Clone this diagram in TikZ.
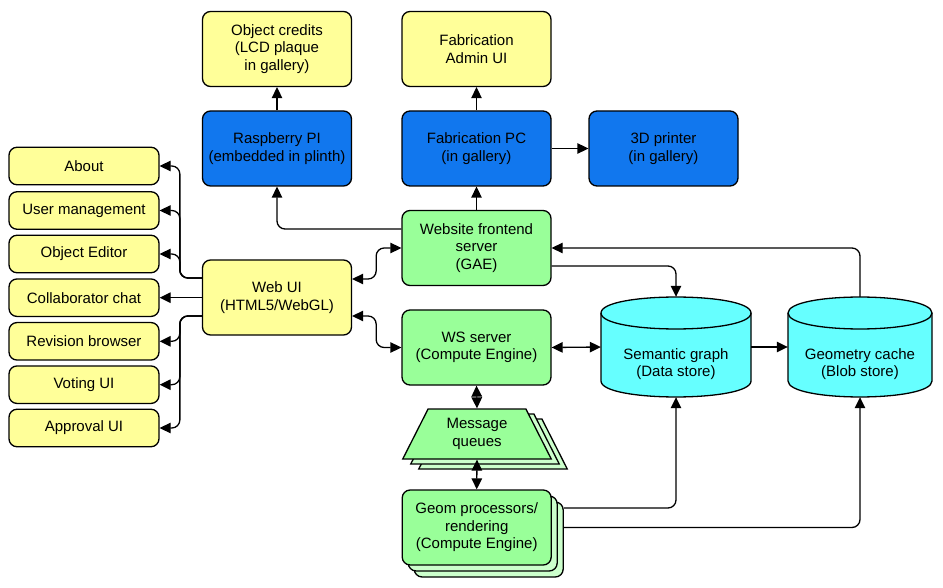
\documentclass[tikz,border=0pt]{standalone}
\usepackage{fontspec}
\setmainfont{Liberation Sans}
\usetikzlibrary{arrows.meta,shapes.geometric,shadows}
\definecolor{cyel}{HTML}{FFFF99}
\definecolor{cblue}{HTML}{1177EE}
\definecolor{cgreen}{HTML}{99FF99}
\definecolor{cgreenl}{HTML}{CCFFCC}
\definecolor{ccyan}{HTML}{66FFFF}
\begin{document}
\begin{tikzpicture}[x=1pt,y=-1pt,
  txt/.style={align=center, font=\fontsize{15}{17.5}\selectfont},
  box/.style={txt, draw=black, line width=1.3pt, rounded corners=8pt, minimum width=149pt, minimum height=75pt, inner sep=2pt},
  ybox/.style={box, fill=cyel},
  bbox/.style={box, fill=cblue},
  gbox/.style={box, fill=cgreen},
  lbox/.style={ybox, minimum width=150pt, minimum height=37.5pt},
  cyl/.style={draw=black, line width=1.3pt, fill=ccyan},
  conn/.style={line width=1.3pt, rounded corners=8pt},
  arr/.style={conn, -{Triangle[length=11pt,width=10.5pt]}},
  darr/.style={conn, {Triangle[length=11pt,width=10.5pt]}-{Triangle[length=11pt,width=10.5pt]}},
]
\useasboundingbox (0,0) rectangle (943,588);
\fill[white] (0,0) rectangle (943,588);

% top rows
\node[ybox] (credits) at (277,49) {Object credits\\(LCD plaque\\in gallery)};
\node[ybox] (fabadmin) at (476.5,49) {Fabrication\\Admin UI};
\node[bbox] (rpi) at (277,148.5) {Raspberry PI\\(embedded in plinth)};
\node[bbox] (fabpc) at (476.5,148.5) {Fabrication PC\\(in gallery)};
\node[bbox] (printer) at (663.5,148.5) {3D printer\\(in gallery)};
\node[gbox] (website) at (476.5,248) {Website frontend\\server\\(GAE)};
\node[ybox] (webui) at (277,297.5) {Web UI\\(HTML5/WebGL)};
\node[gbox] (ws) at (476.5,347.5) {WS server\\(Compute Engine)};

% left column
\node[lbox] (about) at (84,166) {About};
\node[lbox] (usermgmt) at (84,210.5) {User management};
\node[lbox] (objeditor) at (84,254) {Object Editor};
\node[lbox] (chat) at (84,297.7) {Collaborator chat};
\node[lbox] (revision) at (84,341.3) {Revision browser};
\node[lbox] (voting) at (84,384.7) {Voting UI};
\node[lbox] (approval) at (84,428) {Approval UI};

% message queues
\node[txt, trapezium, trapezium left angle=63, trapezium right angle=63, trapezium stretches=true,
  minimum width=149pt, minimum height=50pt, inner sep=0pt, draw=black, line width=1.3pt, fill=cgreen,
  double copy shadow={shadow xshift=8pt, shadow yshift=-5pt, fill=cgreenl, draw=black, line width=1.3pt}]
  (queues) at (477,434) {Message\\queues};

% geom processors
\node[gbox, double copy shadow={shadow xshift=6pt, shadow yshift=-6pt, fill=cgreenl, draw=black, line width=1.3pt}]
  (geom) at (476.7,527.5) {Geom processors/\\rendering\\(Compute Engine)};

% cylinders
\draw[cyl] (601,313) -- (601,381) .. controls (601,402.3) and (751,402.3) .. (751,381)
  -- (751,313) .. controls (751,291.7) and (601,291.7) .. (601,313) -- cycle;
\draw[line width=1.3pt] (601,313) .. controls (601,334.3) and (751,334.3) .. (751,313);
\node[minimum width=150pt, minimum height=100pt, inner sep=0pt,
  label={[txt, yshift=-17pt]center:Semantic graph\\(Data store)}] (sem) at (676,347) {};

\draw[cyl] (788,313) -- (788,381) .. controls (788,402.3) and (932,402.3) .. (932,381)
  -- (932,313) .. controls (932,291.7) and (788,291.7) .. (788,313) -- cycle;
\draw[line width=1.3pt] (788,313) .. controls (788,334.3) and (932,334.3) .. (932,313);
\node[minimum width=144pt, minimum height=100pt, inner sep=0pt,
  label={[txt, yshift=-17pt]center:Geometry cache\\(Blob store)}] (gc) at (860,347) {};

% connectors
\draw[arr] (rpi) -- (credits);
\draw[arr] (fabpc) -- (fabadmin);
\draw[arr] (fabpc) -- (printer);
\draw[arr] (website) -- (fabpc);
\draw[arr] ([yshift=19pt]website.west) -| (rpi.south);
\draw[darr] ([yshift=18.5pt]webui.east) -- ++(24,0) |- (website.west);
\draw[darr] ([yshift=-18.5pt]webui.east) -- ++(24,0) |- (ws.west);
\draw[darr] (ws.east) -- (sem.west);
\draw[arr] (sem.east) -- (gc.west);
\draw[arr] ([yshift=-18pt]website.east) -| (sem.north);
\draw[arr] (gc.north) |- (website.east);
\draw[darr] (ws.south) -- (queues.north);
\draw[darr] (queues.south) -- (geom.north);
\draw[arr] ([xshift=12pt,yshift=19.5pt]geom.east) -| (sem.south);
\draw[arr] ([xshift=12pt]geom.east) -| (gc.south);

\draw[arr] ([yshift=19.5pt]webui.west) -- ++(-22,0) |- (about.east);
\draw[arr] ([yshift=19.5pt]webui.west) -- ++(-22,0) |- (usermgmt.east);
\draw[arr] ([yshift=19.5pt]webui.west) -- ++(-22,0) |- (objeditor.east);
\draw[arr] (webui.west |- chat.east) -- (chat.east);
\draw[arr] ([yshift=-18.5pt]webui.west) -- ++(-22,0) |- (revision.east);
\draw[arr] ([yshift=-18.5pt]webui.west) -- ++(-22,0) |- (voting.east);
\draw[arr] ([yshift=-18.5pt]webui.west) -- ++(-22,0) |- (approval.east);
\end{tikzpicture}
\end{document}
